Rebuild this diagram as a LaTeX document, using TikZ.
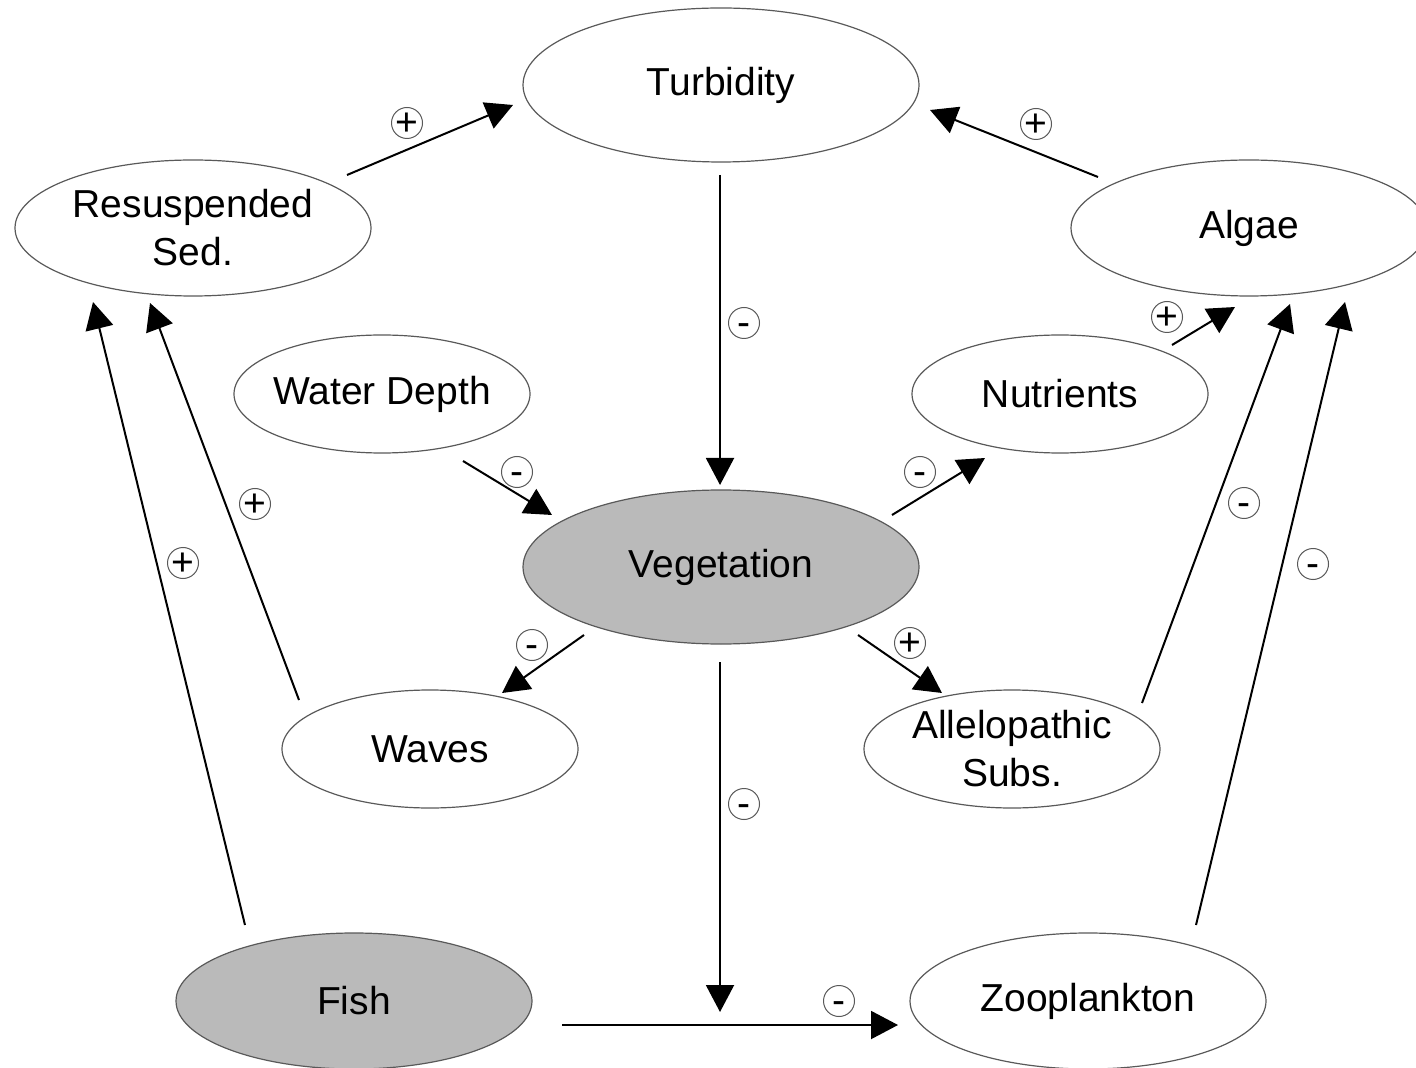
\documentclass[tikz,border=0pt]{standalone}
\usepackage{fontspec}
\setmainfont{Liberation Sans}
\usepackage{tikz}
\usetikzlibrary{shapes.geometric,arrows.meta}
\definecolor{shade}{gray}{0.73}
\newcommand{\nowidth}[1]{\makebox[0pt]{#1}}

\begin{document}
\begin{tikzpicture}[x=0.5pt, y=-0.5pt,
	every node/.style={font=\fontsize{19.5}{24}\selectfont},
	state/.style={ellipse, draw=black!65, line width=0.6pt, inner sep=0pt, align=center},
	big/.style={state, minimum width=198pt, minimum height=77pt},
	mid/.style={state, minimum width=178pt, minimum height=68pt},
	small/.style={state, minimum width=148pt, minimum height=59pt},
	sign/.style={circle, draw=black!65, line width=0.5pt, inner sep=0pt, minimum size=15.5pt, text height=13.4pt, text depth=1pt},
	link/.style={line width=1pt, -{Triangle[length=13.5pt,width=14pt]}}]
\useasboundingbox (0,0) rectangle (1416,1068);

\node[big] (turb) at (721,85) {Turbidity};
\node[mid] (rs) at (193,228) {Resuspended\\Sed.};
\node[mid] (algae) at (1249,228) {Algae};
\node[small] (wd) at (382,394) {\nowidth{Water Depth}};
\node[small] (nut) at (1060,394) {Nutrients};
\node[big, fill=shade] (veg) at (721,567) {Vegetation};
\node[small] (waves) at (430,749) {Waves};
\node[small] (allelo) at (1012,749) {Allelopathic\\Subs.};
\node[mid, fill=shade] (fish) at (354,1001) {Fish};
\node[mid] (zoo) at (1088,1001) {Zooplankton};

% connector ends
\coordinate (rs-to-turb) at (347,175);       \coordinate (turb-from-rs) at (513,105);
\coordinate (algae-to-turb) at (1098,177);   \coordinate (turb-from-algae) at (930,110);
\coordinate (turb-to-veg) at (720,175);      \coordinate (veg-from-turb) at (720,485);
\coordinate (wd-to-veg) at (463,461);        \coordinate (veg-from-wd) at (552,515);
\coordinate (veg-to-nut) at (892,515);       \coordinate (nut-from-veg) at (985,458);
\coordinate (nut-to-algae) at (1172,345);    \coordinate (algae-from-nut) at (1235,307);
\coordinate (allelo-to-algae) at (1142,703); \coordinate (algae-from-allelo) at (1290,304);
\coordinate (zoo-to-algae) at (1196,925);    \coordinate (algae-from-zoo) at (1345,302);
\coordinate (veg-to-waves) at (584,635);     \coordinate (waves-from-veg) at (502,693);
\coordinate (veg-to-allelo) at (858,635);    \coordinate (allelo-from-veg) at (942,693);
\coordinate (veg-to-fz) at (720,662);        \coordinate (fz-from-veg) at (720,1012);
\coordinate (fish-to-zoo) at (562,1025);     \coordinate (zoo-from-fish) at (898,1025);
\coordinate (waves-to-rs) at (299,700);      \coordinate (rs-from-waves) at (150,303);
\coordinate (fish-to-rs) at (245,925);       \coordinate (rs-from-fish) at (93,302);

\path[link]
(rs-to-turb) edge (turb-from-rs)
(algae-to-turb) edge (turb-from-algae)
(turb-to-veg) edge (veg-from-turb)
(wd-to-veg) edge (veg-from-wd)
(veg-to-nut) edge (nut-from-veg)
(veg-to-waves) edge (waves-from-veg)
(veg-to-allelo) edge (allelo-from-veg)
(veg-to-fz) edge (fz-from-veg)
(nut-to-algae) edge (algae-from-nut)
(allelo-to-algae) edge (algae-from-allelo)
(zoo-to-algae) edge (algae-from-zoo)
(waves-to-rs) edge (rs-from-waves)
(fish-to-rs) edge (rs-from-fish)
(fish-to-zoo) edge (zoo-from-fish)
;

% signs
\node[sign] (s-rs-turb) at (407,123) {\nowidth{+}};
\node[sign] (s-algae-turb) at (1036,124) {\nowidth{+}};
\node[sign] (s-turb-veg) at (744,323) {\nowidth{-}};
\node[sign] (s-wd-veg) at (517,472) {\nowidth{-}};
\node[sign] (s-veg-nut) at (920,472) {\nowidth{-}};
\node[sign] (s-nut-algae) at (1167,317) {\nowidth{+}};
\node[sign] (s-allelo-algae) at (1244,503) {\nowidth{-}};
\node[sign] (s-zoo-algae) at (1313,564) {\nowidth{-}};
\node[sign] (s-veg-waves) at (532,645) {\nowidth{-}};
\node[sign] (s-veg-allelo) at (910,643) {\nowidth{+}};
\node[sign] (s-veg-fz) at (744,804) {\nowidth{-}};
\node[sign] (s-fish-zoo) at (839,1001) {\nowidth{-}};
\node[sign] (s-waves-rs) at (255,504) {\nowidth{+}};
\node[sign] (s-fish-rs) at (183,563) {\nowidth{+}};
\end{tikzpicture}
\end{document}
